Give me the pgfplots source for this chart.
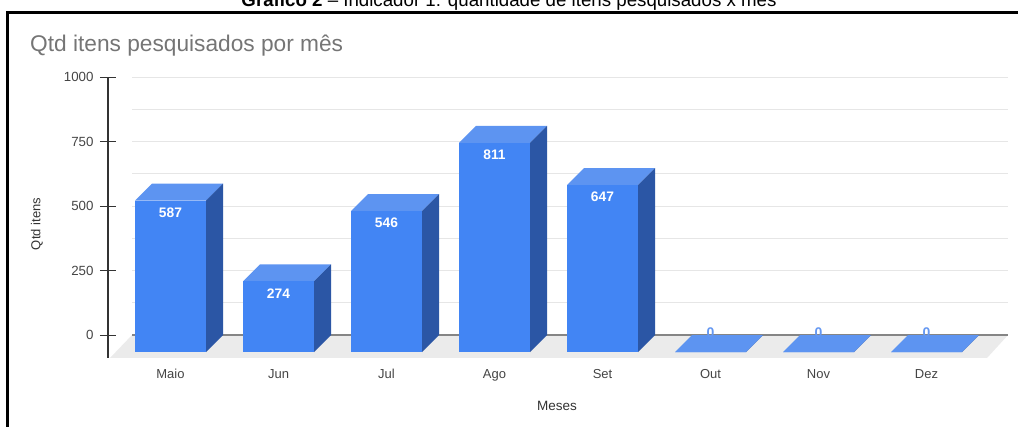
\documentclass[border=0pt]{standalone}
\usepackage{pgfplots}
\pgfplotsset{compat=1.18}
\usepackage{pgfplotstable}
\usepackage{fontspec}
\setmainfont{Liberation Sans}
\definecolor{barfront}{HTML}{4285F4}
\definecolor{barside}{HTML}{2B56A5}
\definecolor{bartop}{HTML}{5D94F1}
\definecolor{floorc}{HTML}{EBEBEB}
\definecolor{gridc}{HTML}{E6E6E6}
\definecolor{zeroc}{HTML}{858585}
\definecolor{axisc}{HTML}{333333}
\definecolor{titlec}{HTML}{757575}
\definecolor{tickc}{HTML}{444444}
\definecolor{zerolab}{HTML}{6497F1}

\pgfplotstableread{
x label v
0 Maio 587
1 Jun 274
2 Jul 546
3 Ago 811
4 Set 647
5 Out 0
6 Nov 0
7 Dez 0
}\datatable

% 3D box mark: origin at back-top-centre of the bar
\pgfdeclareplotmark{box3d}{%
  \pgfmathsetmacro\hh{\rawy*0.258}%
  \pgfpathmoveto{\pgfpoint{-35.5pt}{0pt}}%
  \pgfpathlineto{\pgfpoint{35.5pt}{0pt}}%
  \pgfpathlineto{\pgfpoint{18.5pt}{-17pt}}%
  \pgfpathlineto{\pgfpoint{-52.5pt}{-17pt}}%
  \pgfpathclose
  \pgfsetfillcolor{bartop}\pgfusepath{fill}%
  \pgfpathmoveto{\pgfpoint{35.5pt}{0pt}}%
  \pgfpathlineto{\pgfpoint{35.5pt}{-\hh pt}}%
  \pgfpathlineto{\pgfpoint{18.5pt}{-\hh pt-17pt}}%
  \pgfpathlineto{\pgfpoint{18.5pt}{-17pt}}%
  \pgfpathclose
  \pgfsetfillcolor{barside}\pgfusepath{fill}%
  \pgfpathrectanglecorners{\pgfpoint{-52.5pt}{-17pt}}{\pgfpoint{18.5pt}{-\hh pt-17pt}}%
  \pgfsetfillcolor{barfront}\pgfusepath{fill}%
}

\begin{document}
\begin{tikzpicture}
\useasboundingbox (0pt,0pt) rectangle (1018pt,-427pt);
% frame
\draw[line width=2.6pt, line join=miter] (7.2pt,-440pt) -- (7.2pt,-12.3pt) -- (1030pt,-12.3pt);
% caption (cut off at top, as in the source)
\node[anchor=base, font=\fontsize{18.7}{21}\selectfont, inner sep=0pt] at (509pt,-6.5pt)
  {\textbf{Gráfico 2} – Indicador 1: quantidade de itens pesquisados x mês};
% title
\node[anchor=base west, text=titlec, font=\fontsize{22.7}{25}\selectfont, inner sep=0pt] at (30pt,-52pt)
  {Qtd itens pesquisados por mês};
\node[rotate=90, text=axisc, font=\fontsize{13}{15}\selectfont] at (37pt,-224pt) {Qtd itens};
\node[text=axisc, font=\fontsize{13.5}{15}\selectfont] at (557pt,-406pt) {Meses};

\begin{axis}[
  at={(132pt,-358pt)}, anchor=south west,
  x=108pt, y=0.258pt,
  xmin=-0.5139, xmax=7.5972,
  ymin=-89, ymax=1000,
  clip=false,
  axis y line*=left,
  axis x line*=bottom,
  axis y line shift=24pt,
  x axis line style={draw=none},
  y axis line style={draw=axisc, line width=1.2pt},
  xtick={0,...,7},
  xticklabels from table={\datatable}{label},
  xtick style={draw=none},
  xticklabel style={xshift=-17pt, font=\fontsize{13}{15}\selectfont},
  ytick={0,250,500,750,1000},
  yticklabel style={xshift=-3pt, font=\fontsize{13.3}{15}\selectfont},
  minor y tick num=1,
  ymajorgrids, yminorgrids,
  grid style={gridc, line width=1pt},
  minor grid style={gridc, line width=1pt},
  major tick length=16pt,
  minor tick length=0pt,
  tick align=center,
  ytick style={draw=axisc, line width=1pt},
  tick label style={text=tickc},
  /pgf/number format/assume math mode=true,
  /pgf/number format/1000 sep={},
]
% floor
\addplot[fill=floorc, draw=none] coordinates {(-0.5139,0) (7.5972,0) (7.4028,-89) (-0.7176,-89)} -- cycle;
% zero line
\addplot[zeroc, line width=1.2pt] coordinates {(-0.5139,0) (7.5972,0)};
% bars with values
\addplot[only marks, mark=box3d, visualization depends on=rawy\as\rawy,
  restrict x to domain=-0.5:4.5,
  nodes near coords,
  every node near coord/.append style={anchor=center, xshift=-17pt, yshift=-29pt, text=white,
     font=\bfseries\fontsize{13.8}{15}\selectfont}]
  table[x=x, y=v] {\datatable};
% zero bars
\addplot[only marks, mark=box3d, visualization depends on=rawy\as\rawy,
  restrict x to domain=4.5:7.5,
  nodes near coords,
  every node near coord/.append style={anchor=center, xshift=-17pt, yshift=2pt, text=zerolab,
     font=\bfseries\fontsize{14}{15}\selectfont}]
  table[x=x, y=v] {\datatable};
\end{axis}
\end{tikzpicture}
\end{document}
